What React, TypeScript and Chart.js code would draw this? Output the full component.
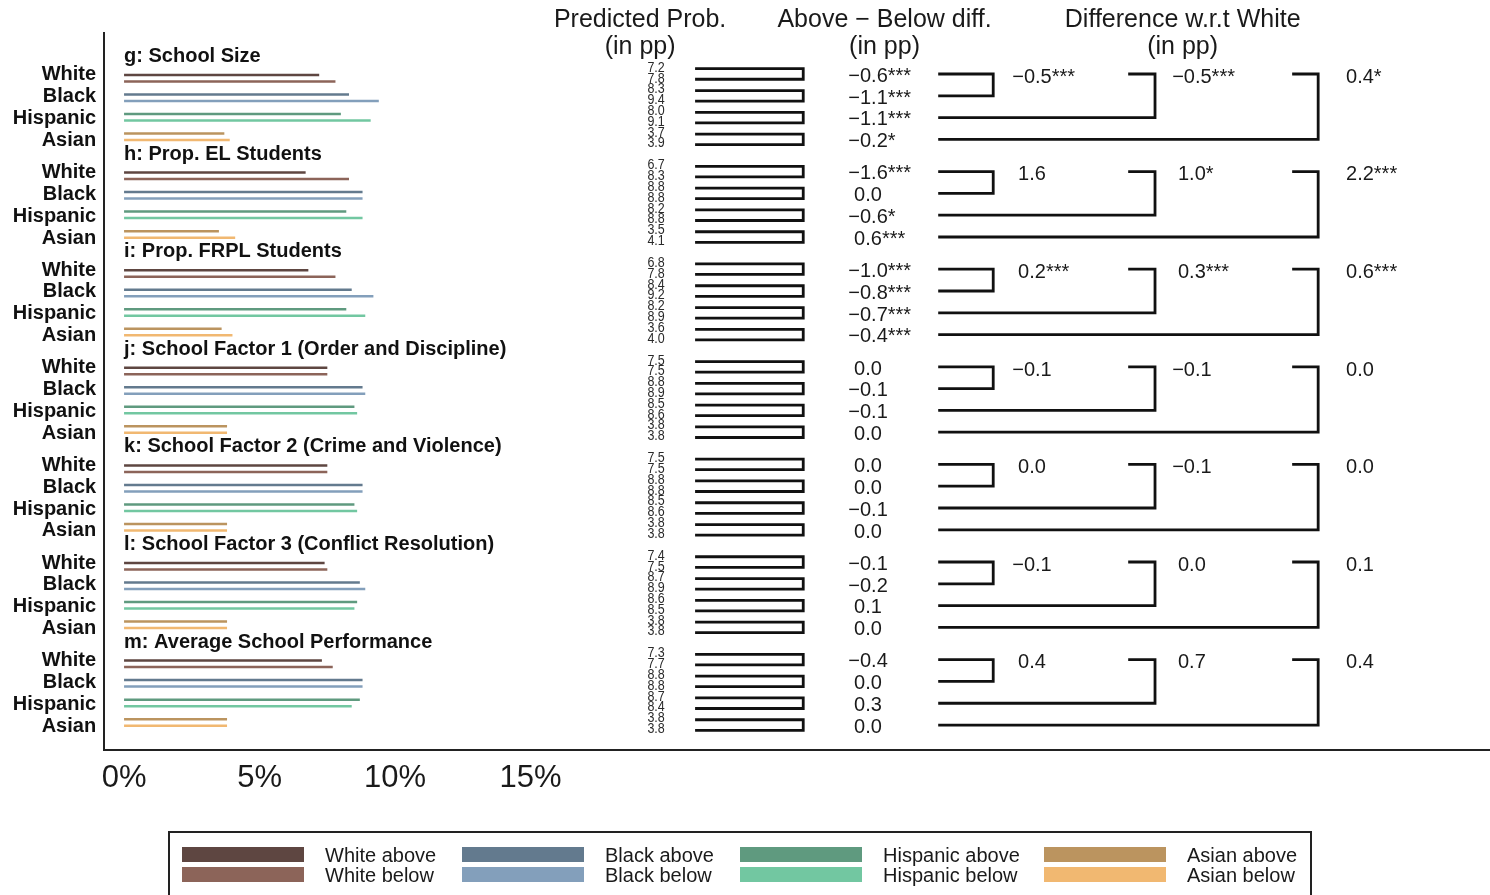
import React, { useEffect, useRef } from "react";
import { Chart, registerables } from "chart.js";
Chart.register(...registerables);

// ---------- DATA ----------
const groupTitles = [
  "g: School Size",
  "h: Prop. EL Students",
  "i: Prop. FRPL Students",
  "j: School Factor 1 (Order and Discipline)",
  "k: School Factor 2 (Crime and Violence)",
  "l: School Factor 3 (Conflict Resolution)",
  "m: Average School Performance",
];
const races = ["White", "Black", "Hispanic", "Asian"];

// predicted probability (%) by group
const whiteAbove = [7.2, 6.7, 6.8, 7.5, 7.5, 7.4, 7.3];
const whiteBelow = [7.8, 8.3, 7.8, 7.5, 7.5, 7.5, 7.7];
const blackAbove = [8.3, 8.8, 8.4, 8.8, 8.8, 8.7, 8.8];
const blackBelow = [9.4, 8.8, 9.2, 8.9, 8.8, 8.9, 8.8];
const hispanicAbove = [8.0, 8.2, 8.2, 8.5, 8.5, 8.6, 8.7];
const hispanicBelow = [9.1, 8.8, 8.9, 8.6, 8.6, 8.5, 8.4];
const asianAbove = [3.7, 3.5, 3.6, 3.8, 3.8, 3.8, 3.8];
const asianBelow = [3.9, 4.1, 4.0, 3.8, 3.8, 3.8, 3.8];

// above - below difference (pp)
const abDiffWhite = [-0.6, -1.6, -1.0, 0.0, 0.0, -0.1, -0.4];
const abSigWhite = ["***", "***", "***", "", "", "", ""];
const abDiffBlack = [-1.1, 0.0, -0.8, -0.1, 0.0, -0.2, 0.0];
const abSigBlack = ["***", "", "***", "", "", "", ""];
const abDiffHispanic = [-1.1, -0.6, -0.7, -0.1, -0.1, 0.1, 0.3];
const abSigHispanic = ["***", "*", "***", "", "", "", ""];
const abDiffAsian = [-0.2, 0.6, -0.4, 0.0, 0.0, 0.0, 0.0];
const abSigAsian = ["*", "***", "***", "", "", "", ""];

// difference w.r.t. White (pp)
const wrtBlack = [-0.5, 1.6, 0.2, -0.1, 0.0, -0.1, 0.4];
const wrtSigBlack = ["***", "", "***", "", "", "", ""];
const wrtHispanic = [-0.5, 1.0, 0.3, -0.1, -0.1, 0.0, 0.7];
const wrtSigHispanic = ["***", "*", "***", "", "", "", ""];
const wrtAsian = [0.4, 2.2, 0.6, 0.0, 0.0, 0.1, 0.4];
const wrtSigAsian = ["*", "***", "***", "", "", "", ""];

const xTicks = [0, 5, 10, 15];
const headers = [
  ["Predicted Prob.", "(in pp)"],
  ["Above \u2212 Below diff.", "(in pp)"],
  ["Difference w.r.t White", "(in pp)"],
];
const legendLabels = [
  ["White above", "White below"],
  ["Black above", "Black below"],
  ["Hispanic above", "Hispanic below"],
  ["Asian above", "Asian below"],
];

// ---------- STYLE / LAYOUT ----------
const colorsAbove = ["#5e4641", "#637a8e", "#5f9a7f", "#bb945f"];
const colorsBelow = ["#8c6459", "#839fbb", "#72c7a1", "#f1b871"];
const FONT = "'Liberation Sans', Arial, sans-serif";
const TEXT = "#1a1a1a";

const X_MIN = -0.74;
const X_MAX = 50.4;
const Y_MIN = -1.1;
const Y_MAX = 35.63;

const GROUP_SPAN = 5;
const TITLE_OFF = -0.9;
const LABEL_PITCH = 1.117;
const BAR_OFF = 0.05;
const BAR_PITCH = 1.0;
const PAIR_GAP = 0.333;
const PROB_START = -0.307;
const PROB_PITCH = 0.553;
const BR_HALF = 0.27;

const LABEL_X = -1.03;
const PROB_X = 19.63;
const BR1_L = 21.07;
const BR1_R = 25.06;
const DIFF_X = 27.45;
const BR2_L = 30.04;
const BR2_V = [32.07, 38.04, 44.06];
const BR2_TOP = [30.04, 37.05, 43.1];
const WRT_X = [33.5, 39.4, 45.6];
const HEADER_X = [19.04, 28.06, 39.06];
const HEADER_Y = [-1.78, -0.40];

const rowY = (g: number) => g * GROUP_SPAN + 1;
const fmt = (v: number) => (v < 0 ? "\u2212" + Math.abs(v).toFixed(1) : Math.abs(v).toFixed(1));

export default function App() {
  const ref = useRef<HTMLCanvasElement>(null);

  useEffect(() => {
    if (!ref.current) return;
    const above = [whiteAbove, blackAbove, hispanicAbove, asianAbove];
    const below = [whiteBelow, blackBelow, hispanicBelow, asianBelow];
    const abDiff = [abDiffWhite, abDiffBlack, abDiffHispanic, abDiffAsian];
    const abSig = [abSigWhite, abSigBlack, abSigHispanic, abSigAsian];
    const wrt = [wrtBlack, wrtHispanic, wrtAsian];
    const wrtSig = [wrtSigBlack, wrtSigHispanic, wrtSigAsian];

    const datasets: any[] = [];
    const line = (pts: { x: number; y: number }[], color: string, w: number) => ({
      data: pts,
      borderColor: color,
      backgroundColor: color,
      borderWidth: w,
      pointRadius: 0,
      fill: false,
      tension: 0,
      showLine: true,
      borderJoinStyle: "miter",
      borderCapStyle: "butt",
    });

    for (let g = 0; g < groupTitles.length; g++) {
      for (let r = 0; r < races.length; r++) {
        const yA = rowY(g) + BAR_OFF + r * BAR_PITCH;
        const yB = yA + PAIR_GAP;
        datasets.push(line([{ x: 0, y: yA }, { x: above[r][g], y: yA }], colorsAbove[r], 2.5));
        datasets.push(line([{ x: 0, y: yB }, { x: below[r][g], y: yB }], colorsBelow[r], 2.5));
        // bracket joining above/below
        const yc = rowY(g) + r * LABEL_PITCH;
        datasets.push(
          line(
            [
              { x: BR1_L, y: yc - BR_HALF },
              { x: BR1_R, y: yc - BR_HALF },
              { x: BR1_R, y: yc + BR_HALF },
              { x: BR1_L, y: yc + BR_HALF },
            ],
            "#111",
            2.8
          )
        );
      }
      for (let k = 0; k < 3; k++) {
        const top = rowY(g);
        const bot = rowY(g) + (k + 1) * LABEL_PITCH;
        datasets.push(
          line(
            [
              { x: BR2_TOP[k], y: top },
              { x: BR2_V[k], y: top },
              { x: BR2_V[k], y: bot },
              { x: BR2_L, y: bot },
            ],
            "#111",
            2.8
          )
        );
      }
    }

    const textPlugin = {
      id: "textPlugin",
      afterDraw(chart: any) {
        const ctx = chart.ctx as CanvasRenderingContext2D;
        const xs = chart.scales.x;
        const ys = chart.scales.y;
        const px = (v: number) => xs.getPixelForValue(v);
        const py = (v: number) => ys.getPixelForValue(v);
        ctx.save();
        ctx.fillStyle = TEXT;
        ctx.textBaseline = "middle";

        // headers
        ctx.font = `25px ${FONT}`;
        ctx.textAlign = "center";
        headers.forEach((h, i) => {
          ctx.fillText(h[0], px(HEADER_X[i]), py(HEADER_Y[0]));
          ctx.fillText(h[1], px(HEADER_X[i]), py(HEADER_Y[1]));
        });

        const numStar = (num: string, star: string, cx: number, cy: number) => {
          ctx.textAlign = "center";
          ctx.fillText(num, cx, cy);
          if (star) {
            const w = ctx.measureText(num).width;
            ctx.textAlign = "left";
            ctx.fillText(star, cx + w / 2, cy);
          }
        };

        for (let g = 0; g < groupTitles.length; g++) {
          // title
          ctx.font = `bold 20px ${FONT}`;
          ctx.textAlign = "left";
          ctx.fillStyle = "#111";
          ctx.fillText(groupTitles[g], px(0), py(rowY(g) + TITLE_OFF));
          // race labels
          ctx.textAlign = "right";
          races.forEach((rc, r) => {
            ctx.fillText(rc, px(LABEL_X), py(rowY(g) + r * LABEL_PITCH + 0.05));
          });
          // predicted prob numbers
          ctx.fillStyle = "#2a2a2a";
          ctx.font = `12.5px ${FONT}`;
          ctx.textAlign = "center";
          const vals: number[] = [];
          for (let r = 0; r < 4; r++) {
            vals.push(above[r][g], below[r][g]);
          }
          vals.forEach((v, k) => {
            const yy = py(rowY(g) + PROB_START + k * PROB_PITCH);
            ctx.save();
            ctx.translate(px(PROB_X), yy);
            ctx.scale(1, 1.12);
            ctx.fillText(v.toFixed(1), 0, 0);
            ctx.restore();
          });
          // above-below diff
          ctx.fillStyle = TEXT;
          ctx.font = `20px ${FONT}`;
          for (let r = 0; r < 4; r++) {
            numStar(fmt(abDiff[r][g]), abSig[r][g], px(DIFF_X), py(rowY(g) + r * LABEL_PITCH + 0.12));
          }
          // wrt white
          for (let k = 0; k < 3; k++) {
            numStar(fmt(wrt[k][g]), wrtSig[k][g], px(WRT_X[k]), py(rowY(g) + 0.17));
          }
        }

        // legend
        ctx.strokeStyle = "#222";
        ctx.lineWidth = 2;
        ctx.strokeRect(169, 832, 1142, 90);
        const swX = [182, 462, 740, 1044];
        ctx.font = `20px ${FONT}`;
        ctx.textAlign = "left";
        legendLabels.forEach((lab, i) => {
          ctx.fillStyle = colorsAbove[i];
          ctx.fillRect(swX[i], 847, 122, 15);
          ctx.fillStyle = colorsBelow[i];
          ctx.fillRect(swX[i], 867, 122, 15);
          ctx.fillStyle = TEXT;
          ctx.fillText(lab[0], swX[i] + 143, 856);
          ctx.fillText(lab[1], swX[i] + 143, 876);
        });
        ctx.restore();
      },
    };

    const chart = new Chart(ref.current, {
      type: "line",
      data: { datasets },
      options: {
        animation: false,
        responsive: false,
        layout: { padding: { top: 33, left: 0, right: 0, bottom: 0 } },
        plugins: { legend: { display: false }, tooltip: { enabled: false } },
        scales: {
          x: {
            type: "linear",
            min: X_MIN,
            max: X_MAX,
            afterBuildTicks: (s: any) => {
              s.ticks = xTicks.map((v) => ({ value: v }));
            },
            afterFit: (s: any) => {
              s.height = 145;
            },
            ticks: {
              callback: (v: any) => v + "%",
              font: { family: FONT, size: 31 },
              color: TEXT,
              padding: 10,
              maxRotation: 0,
              autoSkip: false,
            },
            grid: { display: false, drawTicks: false },
            border: { display: true, color: "#222", width: 2 },
          },
          y: {
            type: "linear",
            reverse: true,
            min: Y_MIN,
            max: Y_MAX,
            afterFit: (s: any) => {
              s.width = 104;
            },
            ticks: { display: false },
            grid: { display: false, drawTicks: false },
            border: { display: true, color: "#222", width: 2 },
          },
        },
      } as any,
      plugins: [textPlugin],
    });
    return () => chart.destroy();
  }, []);

  return (
    <div style={{ position: "absolute", left: 0, top: 0, width: 1490, height: 895, background: "#fff" }}>
      <canvas ref={ref} width={1490} height={895} style={{ display: "block" }} />
    </div>
  );
}
